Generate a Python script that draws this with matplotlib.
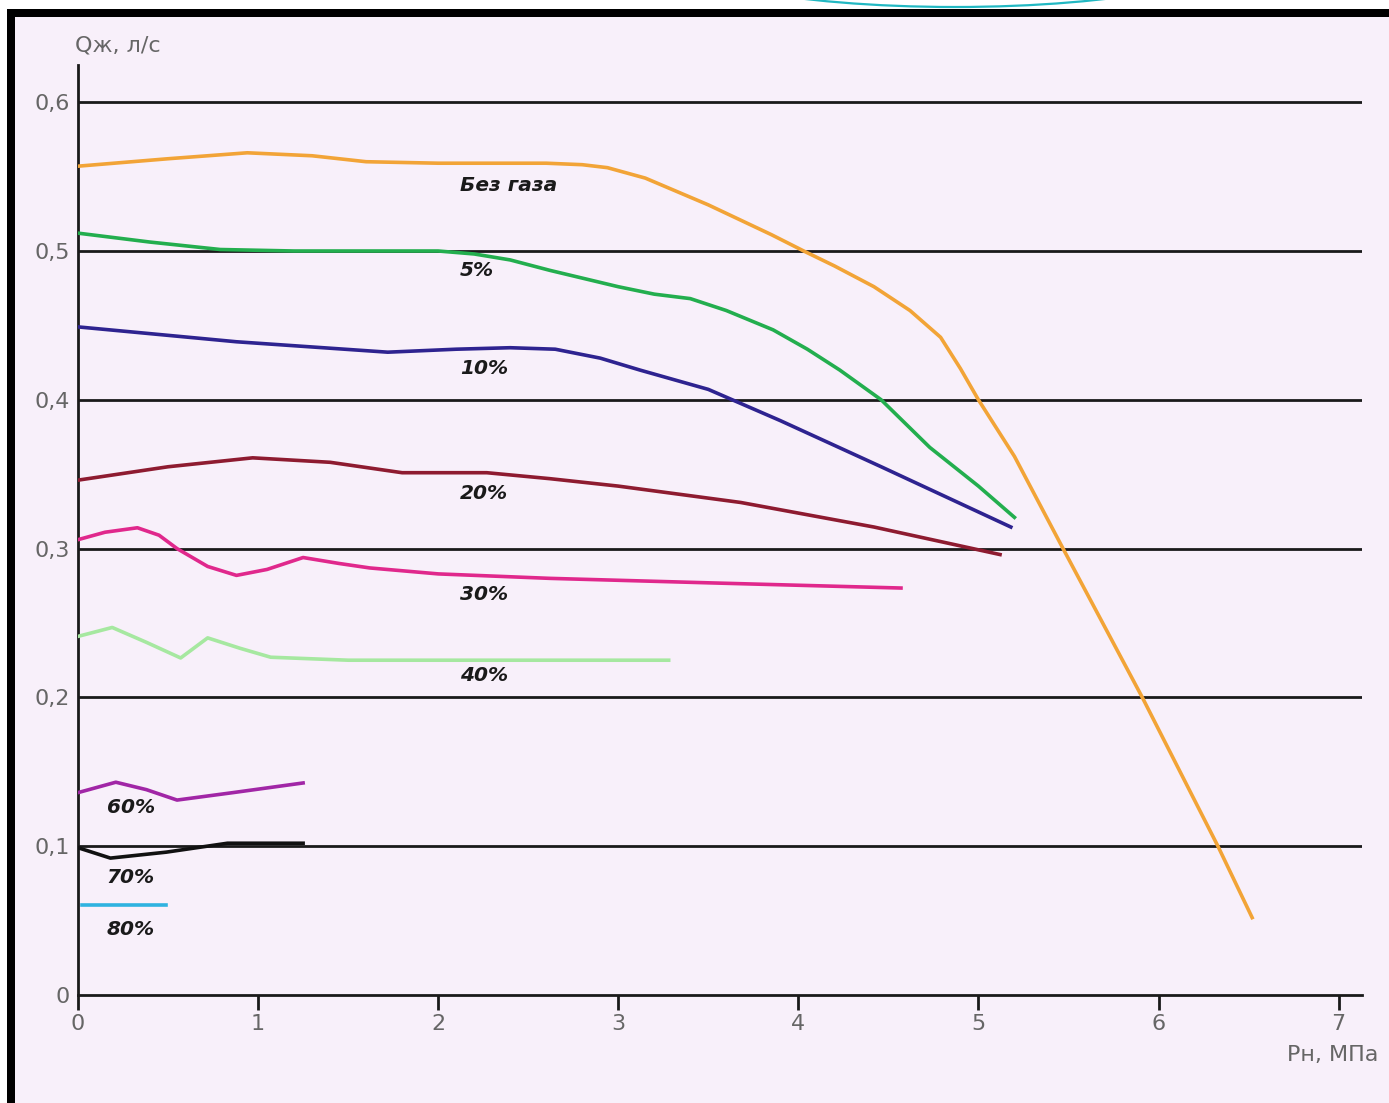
import matplotlib
matplotlib.use("Agg")
import matplotlib.pyplot as plt
from matplotlib.patches import Rectangle, Ellipse

# ---- data: liquid flow rate Q (l/s) vs. intake pressure P (MPa) at various gas contents ----
p_no_gas = [0, 0.5, 0.94, 1.3, 1.6, 2.0, 2.6, 2.8, 2.94, 3.15, 3.5, 3.85, 4.03, 4.2, 4.42, 4.62, 4.79, 4.9, 5.0, 5.2, 5.47, 5.91, 6.33, 6.52]
q_no_gas = [0.557, 0.562, 0.566, 0.564, 0.560, 0.559, 0.559, 0.558, 0.556, 0.549, 0.531, 0.511, 0.500, 0.490, 0.476, 0.460, 0.442, 0.421, 0.400, 0.362, 0.300, 0.200, 0.100, 0.052]

p_5 = [0, 0.4, 0.79, 1.2, 2.0, 2.2, 2.4, 2.62, 3.0, 3.2, 3.4, 3.6, 3.86, 4.05, 4.23, 4.46, 4.73, 5.0, 5.2]
q_5 = [0.512, 0.506, 0.501, 0.500, 0.500, 0.498, 0.494, 0.487, 0.476, 0.471, 0.468, 0.460, 0.447, 0.434, 0.420, 0.400, 0.368, 0.342, 0.321]

p_10 = [0, 0.88, 1.72, 2.1, 2.4, 2.65, 2.9, 3.12, 3.5, 3.9, 4.46, 5.18]
q_10 = [0.449, 0.439, 0.432, 0.434, 0.435, 0.434, 0.428, 0.420, 0.407, 0.386, 0.355, 0.3145]

p_20 = [0, 0.5, 0.97, 1.4, 1.8, 2.27, 2.62, 3.0, 3.68, 4.42, 5.12]
q_20 = [0.346, 0.355, 0.361, 0.358, 0.351, 0.351, 0.347, 0.342, 0.331, 0.3145, 0.296]

p_30 = [0, 0.15, 0.33, 0.45, 0.55, 0.72, 0.88, 1.05, 1.25, 1.45, 1.62, 2.0, 2.62, 3.5, 4.57]
q_30 = [0.306, 0.311, 0.314, 0.309, 0.300, 0.288, 0.282, 0.286, 0.294, 0.290, 0.287, 0.283, 0.280, 0.277, 0.2735]

p_40 = [0, 0.19, 0.38, 0.57, 0.72, 0.9, 1.07, 1.5, 2.2, 3.28]
q_40 = [0.241, 0.247, 0.237, 0.2265, 0.240, 0.233, 0.227, 0.225, 0.225, 0.225]

p_60 = [0, 0.21, 0.38, 0.55, 0.86, 1.25]
q_60 = [0.136, 0.143, 0.138, 0.131, 0.136, 0.1425]

p_70 = [0, 0.18, 0.49, 0.83, 1.25]
q_70 = [0.099, 0.092, 0.096, 0.102, 0.102]

p_80 = [0.02, 0.49]
q_80 = [0.0605, 0.0605]

series_labels = ["Без газа", "5%", "10%", "20%", "30%", "40%", "60%", "70%", "80%"]

y_ticks = [0, 0.1, 0.2, 0.3, 0.4, 0.5, 0.6]
y_tick_labels = ["0", "0,1", "0,2", "0,3", "0,4", "0,5", "0,6"]
x_ticks = [0, 1, 2, 3, 4, 5, 6, 7]
x_tick_labels = ["0", "1", "2", "3", "4", "5", "6", "7"]

# ---- figure ----
W, H = 1389, 1103
fig = plt.figure(figsize=(W / 100, H / 100), dpi=100, facecolor="white")


def fx(px):
    return px / W


def fy(py):
    return 1 - py / H


bg = "#F8F0FA"
# panel background and heavy black frame (top and left)
fig.patches.append(Rectangle((fx(15), 0), 1 - fx(15), fy(17), transform=fig.transFigure,
                             facecolor=bg, edgecolor="none", zorder=-10))
fig.patches.append(Rectangle((fx(7), fy(17)), 1 - fx(7), fy(9) - fy(17), transform=fig.transFigure,
                             facecolor="black", edgecolor="none", zorder=-9))
fig.patches.append(Rectangle((fx(7), 0), fx(15) - fx(7), fy(9), transform=fig.transFigure,
                             facecolor="black", edgecolor="none", zorder=-9))
# decorative cyan arc above the frame
fig.patches.append(Ellipse((fx(955), fy(-53)), 600 / W, 120 / H, transform=fig.transFigure,
                           facecolor="none", edgecolor="#22B8C2", linewidth=1.6, zorder=-8))

ax = fig.add_axes([fx(78), fy(995), fx(1362) - fx(78), fy(65) - fy(995)])
ax.set_zorder(1)
ax.set_facecolor("none")
ax.set_xlim(0, 7.13)
ax.set_ylim(0, 0.625)

for s in ["top", "right"]:
    ax.spines[s].set_visible(False)
for s in ["left", "bottom"]:
    ax.spines[s].set_linewidth(2.0)
    ax.spines[s].set_color("#1a1a1a")

# horizontal reference lines
for yv in y_ticks[1:]:
    ax.axhline(yv, color="#1a1a1a", linewidth=2.0, zorder=1)

ax.set_xticks(x_ticks)
ax.set_xticklabels(x_tick_labels)
ax.set_yticks(y_ticks)
ax.set_yticklabels(y_tick_labels)
ax.tick_params(axis="x", length=11, width=2.0, color="#1a1a1a", pad=3,
               labelsize=16, labelcolor="#666666")
ax.tick_params(axis="y", length=0, pad=6, labelsize=16, labelcolor="#666666")

# curves
lw = 2.6
ax.plot(p_no_gas, q_no_gas, color="#F2A437", lw=lw, zorder=3)
ax.plot(p_5, q_5, color="#23AE4E", lw=lw, zorder=3)
ax.plot(p_10, q_10, color="#2E2390", lw=lw, zorder=3)
ax.plot(p_20, q_20, color="#8E1B30", lw=lw, zorder=3)
ax.plot(p_30, q_30, color="#E0288C", lw=lw, zorder=3)
ax.plot(p_40, q_40, color="#A6E8A0", lw=lw, zorder=3)
ax.plot(p_60, q_60, color="#A126A6", lw=lw, zorder=3)
ax.plot(p_70, q_70, color="#111111", lw=lw, zorder=3)
ax.plot(p_80, q_80, color="#2FB3E0", lw=lw, zorder=3)

# curve captions
label_pos = [(2.12, 0.544), (2.12, 0.487), (2.12, 0.421), (2.12, 0.337),
             (2.12, 0.269), (2.12, 0.215), (0.16, 0.126), (0.16, 0.079), (0.16, 0.0437)]
for txt, (xl, yl) in zip(series_labels, label_pos):
    ax.text(xl, yl, txt, fontsize=14.5, fontstyle="italic", fontweight="bold",
            color="#1a1a1a", ha="left", va="center", zorder=4)

# axis titles
fig.text(fx(75), fy(45), "Qж, л/с", fontsize=16, color="#666666", ha="left", va="center")
fig.text(fx(1378), fy(1055), "Рн, МПа", fontsize=16, color="#666666", ha="right", va="center")

fig.savefig("out.png", dpi=100, facecolor=fig.get_facecolor())
